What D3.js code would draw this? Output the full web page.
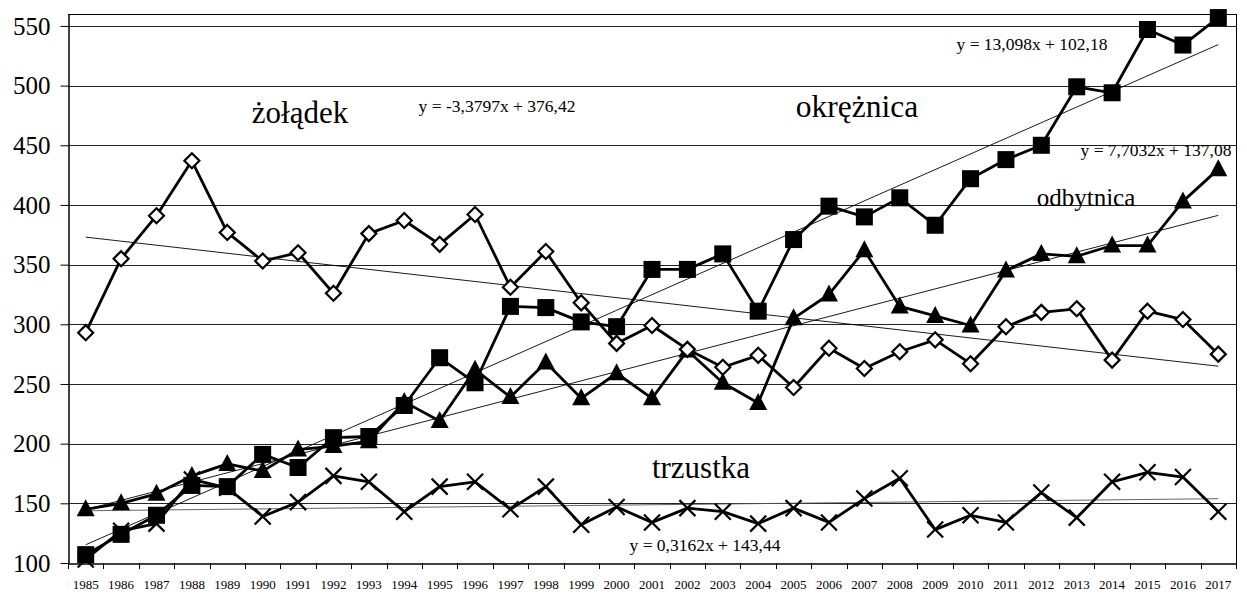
<!DOCTYPE html>
<html><head><meta charset="utf-8">
<script src="https://cdn.jsdelivr.net/npm/d3@7"></script>
<style>body{margin:0;background:#fff}svg{display:block}</style>
</head><body>
<script>
const years = d3.range(1985, 2018).map(String);
const zoladek = [293,355,391,437,377,353,360,326,376,387,367,392,331,361,318,284,299,279,264,274,247,280,263,277,287,267,298,310,313,270,311,304,275];
const okreznica = [107,124,140,165,164,191,180,205,206,232,272,251,315,314,302,298,346,346,359,311,371,399,390,406,383,422,438,450,499,494,547,534,557];
const odbytnica = [145,150,158,173,183,177,195,198,202,235,219,262,239,268,238,259,238,278,251,234,305,325,362,315,307,299,345,359,357,366,366,403,430];
const trzustka = [103,127,133,170,163,139,151,173,168,143,164,168,145,164,132,147,134,146,143,133,146,134,154,171,128,140,134,159,138,168,176,172,143];
const yTicks = [100,150,200,250,300,350,400,450,500,550];
const trendSlope = [-3.3797, 13.098, 7.7032, 0.3162];
const trendIntercept = [376.42, 102.18, 137.08, 143.44];
const trendLabels = ["y = -3,3797x + 376,42","y = 13,098x + 102,18","y = 7,7032x + 137,08","y = 0,3162x + 143,44"];
const seriesNames = ["żołądek","okrężnica","odbytnica","trzustka"];

const FONT="Liberation Serif";
const W=1247,H=595;
const m={l:68,r:11,t:14,b:32};
const svg=d3.select("body").append("svg").attr("width",W).attr("height",H).attr("font-family",FONT);
const x=d3.scaleBand().domain(years).range([m.l,W-m.r]);
const y=d3.scaleLinear().domain([100,560]).range([H-m.b,m.t]);
const cx=d=>x(d)+x.bandwidth()/2;

// gridlines
svg.append("g").selectAll("line").data(yTicks.slice(1)).join("line")
  .attr("x1",m.l).attr("x2",W-m.r).attr("y1",d=>Math.round(y(d))+0.5).attr("y2",d=>Math.round(y(d))+0.5)
  .attr("stroke","#222").attr("stroke-width",1);
// frame top/right
svg.append("line").attr("x1",m.l).attr("x2",W-m.r).attr("y1",m.t+0.5).attr("y2",m.t+0.5).attr("stroke","#000");
svg.append("line").attr("x1",W-m.r+0.5).attr("x2",W-m.r+0.5).attr("y1",m.t).attr("y2",H-m.b).attr("stroke","#000");

// axes
const ya=svg.append("g").attr("transform",`translate(${m.l+0.5},0)`)
  .call(d3.axisLeft(y).tickValues(yTicks).tickSize(8).tickSizeOuter(0).tickPadding(10));
ya.attr("font-family",FONT);
ya.select(".domain").attr("stroke","#000").attr("stroke-width",1.5);
ya.selectAll("text").attr("font-family",FONT).attr("font-size",25).attr("fill","#000").attr("dy","0.33em");
const xa=svg.append("g").attr("transform",`translate(0,${H-m.b+0.5})`)
  .call(d3.axisBottom(x).tickSize(0).tickPadding(16));
xa.attr("font-family",FONT);
xa.select(".domain").attr("stroke","#000").attr("stroke-width",1.5);
xa.selectAll("text").attr("font-family",FONT).attr("font-size",13).attr("fill","#000");
// tick marks between categories
svg.append("g").selectAll("line").data(years.concat(["end"])).join("line")
  .attr("x1",(d,i)=>Math.round(m.l+i*x.step())+0.5).attr("x2",(d,i)=>Math.round(m.l+i*x.step())+0.5)
  .attr("y1",H-m.b).attr("y2",H-m.b+6).attr("stroke","#000");

// trend lines
const allSeries=[zoladek,okreznica,odbytnica,trzustka];
trendSlope.forEach((s,i)=>{
  const pts=[[years[0],s*1+trendIntercept[i]],[years[years.length-1],s*years.length+trendIntercept[i]]];
  svg.append("line").attr("x1",cx(pts[0][0])).attr("y1",y(pts[0][1])).attr("x2",cx(pts[1][0])).attr("y2",y(pts[1][1]))
    .attr("stroke",i===3?"#555":"#000").attr("stroke-width",0.9);
});

const line=d3.line().x((d,i)=>cx(years[i])).y(d=>y(d));
const drawOrder=[1,2,0,3];
drawOrder.forEach(k=>{
  svg.append("path").datum(allSeries[k]).attr("d",line).attr("fill","none").attr("stroke","#000").attr("stroke-width",2.8).attr("stroke-linejoin","round");
});
const g=svg.append("g");
g.selectAll(".sq").data(okreznica).join("rect").attr("x",(d,i)=>cx(years[i])-8.5).attr("y",d=>y(d)-8.5)
  .attr("width",17).attr("height",17).attr("fill","#000");
g.selectAll(".tr").data(odbytnica).join("path").attr("d",(d,i)=>{const X=cx(years[i]),Y=y(d);return `M${X},${Y-10}L${X+9},${Y+7}L${X-9},${Y+7}Z`;}).attr("fill","#000");
g.selectAll(".dm").data(zoladek).join("path").attr("d",(d,i)=>{const X=cx(years[i]),Y=y(d);return `M${X},${Y-7.5}L${X+7.5},${Y}L${X},${Y+7.5}L${X-7.5},${Y}Z`;})
  .attr("fill","#fff").attr("stroke","#000").attr("stroke-width",2.2);
g.selectAll(".x").data(trzustka).join("path").attr("d",(d,i)=>{const X=cx(years[i]),Y=y(d);return `M${X-8},${Y-8}L${X+8},${Y+8}M${X+8},${Y-8}L${X-8},${Y+8}`;})
  .attr("stroke","#000").attr("stroke-width",2.2);

const labels=[
  {t:seriesNames[0],x:300,y:123,s:31},
  {t:seriesNames[1],x:857,y:117,s:31.5},
  {t:seriesNames[2],x:1086,y:206,s:25},
  {t:seriesNames[3],x:701,y:478,s:31},
  {t:trendLabels[0],x:497,y:112,s:17.5},
  {t:trendLabels[1],x:1032,y:50,s:17.5},
  {t:trendLabels[2],x:1156,y:156,s:17.5},
  {t:trendLabels[3],x:705,y:551,s:17.5}
];
svg.append("g").selectAll("text").data(labels).join("text").attr("x",d=>d.x).attr("y",d=>d.y)
  .attr("font-family",FONT).attr("text-anchor","middle").attr("font-size",d=>d.s).attr("fill","#000").text(d=>d.t);
</script>
</body></html>
